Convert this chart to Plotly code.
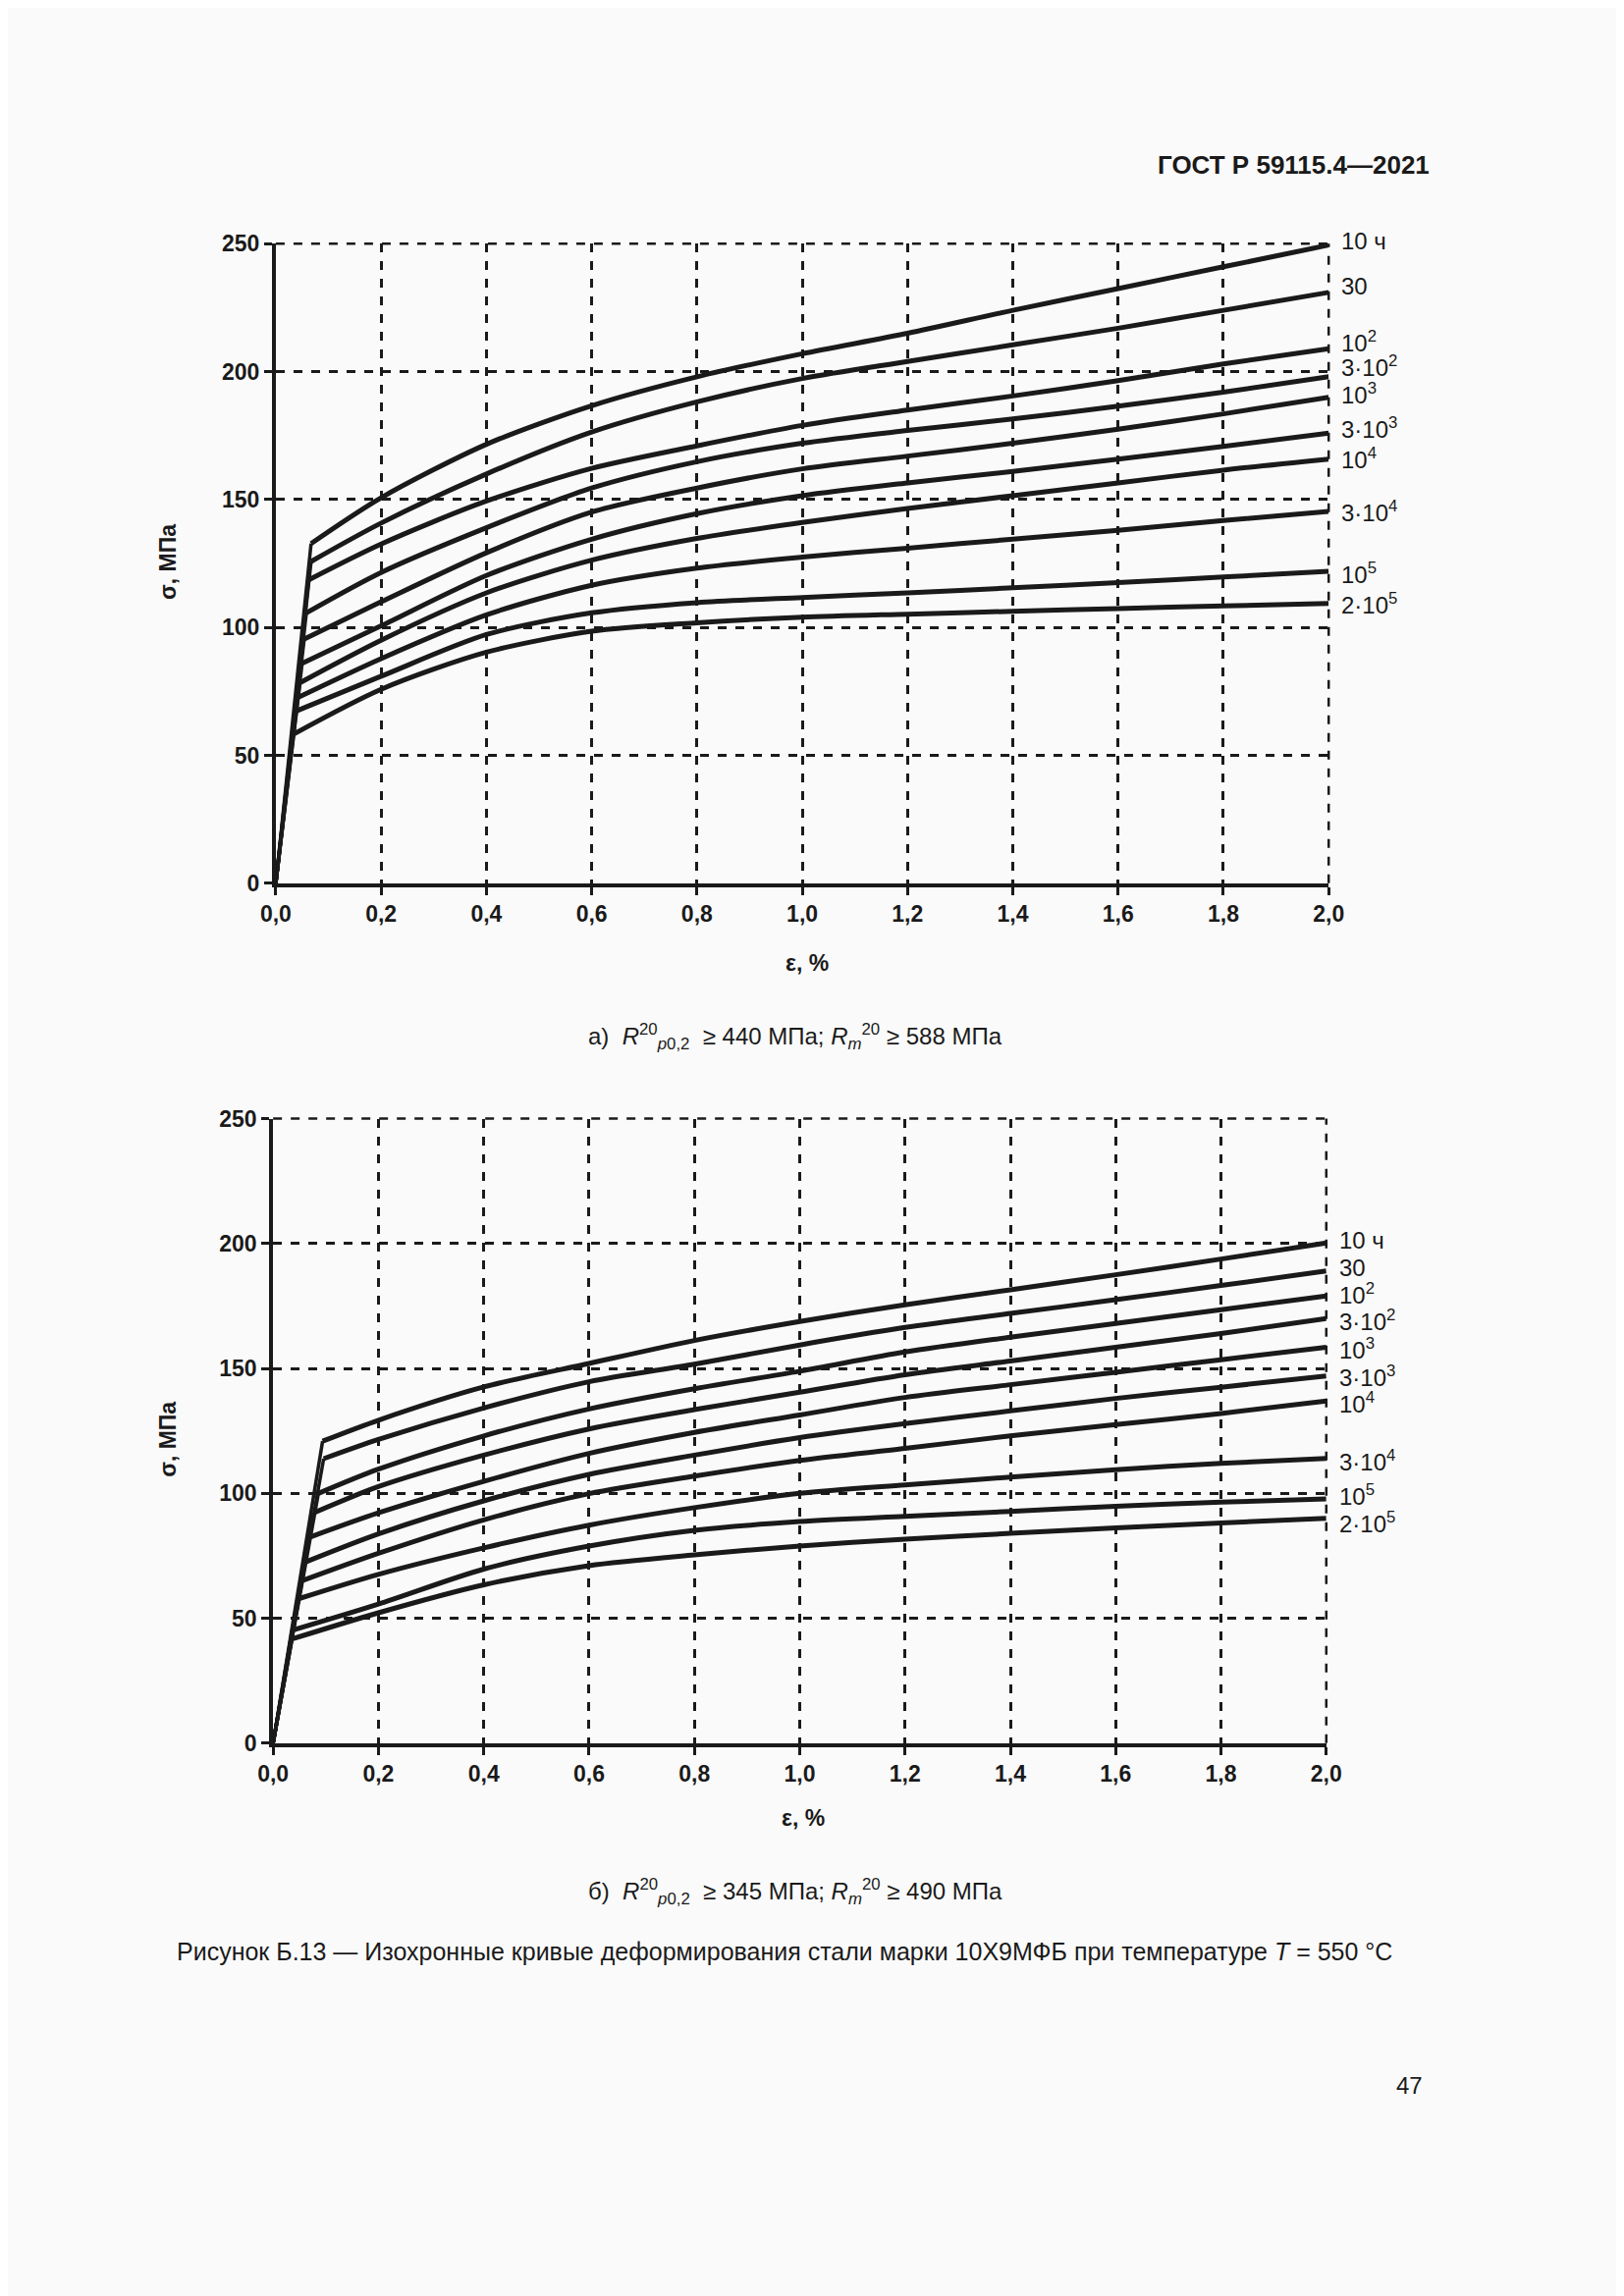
import plotly.graph_objects as go

labels = ["10 ч", "30", "10<sup>2</sup>", "3·10<sup>2</sup>", "10<sup>3</sup>", "3·10<sup>3</sup>",
          "10<sup>4</sup>", "3·10<sup>4</sup>", "10<sup>5</sup>", "2·10<sup>5</sup>"]
x_grid = [0.2, 0.4, 0.6, 0.8, 1.0, 1.2, 1.4, 1.6, 1.8, 2.0]

# Chart a)
a_start_x = [0.067, 0.067, 0.0625, 0.058, 0.054, 0.05, 0.046, 0.04, 0.0375, 0.033]
a_start_y = [132.8, 125.8, 118.6, 105.7, 95.5, 86.0, 78.4, 72.4, 67.2, 58.2]
a_vals = [
    [150.7, 171.6, 186.7, 198.0, 207.0, 215.0, 224.0, 232.5, 241.0, 249.5],
    [140.8, 160.0, 176.4, 188.2, 197.3, 204.0, 210.5, 217.0, 224.0, 231.0],
    [132.6, 149.4, 162.2, 171.0, 179.0, 185.0, 190.5, 196.5, 203.0, 209.0],
    [121.5, 139.0, 154.5, 164.8, 172.0, 177.0, 181.5, 186.5, 192.0, 198.0],
    [110.0, 129.2, 145.1, 154.5, 162.0, 167.0, 172.0, 177.5, 183.5, 190.0],
    [100.6, 120.3, 134.5, 144.5, 151.5, 156.5, 161.0, 165.8, 170.8, 176.0],
    [95.0, 113.5, 126.3, 134.8, 141.0, 146.5, 151.5, 156.5, 161.5, 165.8],
    [87.8, 104.9, 116.5, 123.2, 127.5, 131.0, 134.5, 138.0, 141.8, 145.4],
    [80.9, 97.2, 105.7, 109.7, 111.7, 113.5, 115.5, 117.5, 119.7, 121.9],
    [75.8, 90.3, 98.5, 101.8, 104.0, 105.2, 106.3, 107.4, 108.4, 109.4],
]
a_label_y = [251, 233.5, 211.9, 202, 191.6, 177.9, 165.9, 145.3, 121.3, 109.3]

# Chart б)
b_start_x = [0.094, 0.096, 0.086, 0.077, 0.069, 0.061, 0.052, 0.048, 0.036, 0.036]
b_start_y = [120.9, 113.9, 100.0, 92.2, 82.4, 72.5, 64.8, 57.8, 45.2, 41.7]
b_vals = [
    [129.3, 142.6, 152.0, 161.2, 168.8, 175.5, 181.5, 187.5, 193.8, 200.2],
    [121.6, 134.2, 144.7, 151.7, 159.4, 166.4, 172.0, 177.5, 183.2, 189.0],
    [109.7, 123.0, 133.8, 141.9, 148.9, 156.6, 162.5, 168.0, 173.5, 179.0],
    [102.7, 115.3, 125.8, 133.5, 140.5, 147.5, 153.0, 158.5, 164.0, 170.0],
    [92.2, 104.8, 116.0, 124.4, 131.4, 138.4, 143.5, 148.5, 153.5, 158.5],
    [83.8, 97.0, 107.6, 115.3, 122.3, 127.9, 133.0, 138.0, 142.5, 147.0],
    [76.0, 89.4, 99.9, 106.9, 113.2, 118.0, 123.0, 127.5, 132.0, 137.0],
    [67.6, 78.2, 87.3, 94.3, 100.0, 103.4, 106.5, 109.5, 112.0, 114.0],
    [55.7, 69.7, 78.9, 85.2, 88.7, 90.8, 92.8, 94.8, 96.5, 97.8],
    [52.2, 63.4, 71.1, 75.4, 78.9, 81.7, 84.0, 86.2, 88.2, 90.0],
]
b_label_y = [201.4, 190.3, 179.7, 169.2, 158.0, 147.0, 136.4, 113.0, 99.5, 88.4]

y_max = 250
x_max = 2.0
y_ticks = [0, 50, 100, 150, 200, 250]
x_ticks = [0, 0.2, 0.4, 0.6, 0.8, 1.0, 1.2, 1.4, 1.6, 1.8, 2.0]
x_ticktext = ["0,0", "0,2", "0,4", "0,6", "0,8", "1,0", "1,2", "1,4", "1,6", "1,8", "2,0"]

FONT = "Liberation Sans, Arial, sans-serif"
INK = "#1a1a1a"
fig = go.Figure()

def add_chart(xa, ya, sx, sy, vals, lab_y):
    for i in range(len(vals)):
        fig.add_trace(go.Scatter(x=[0, sx[i]], y=[0, sy[i]], mode="lines",
                                 line=dict(color=INK, width=3.5),
                                 xaxis=xa, yaxis=ya, showlegend=False))
        fig.add_trace(go.Scatter(x=[sx[i]] + x_grid, y=[sy[i]] + vals[i], mode="lines",
                                 line=dict(color=INK, width=5, shape="spline", smoothing=0.8),
                                 xaxis=xa, yaxis=ya, showlegend=False))
        fig.add_annotation(x=1.01, y=lab_y[i] / y_max, xref=xa + " domain", yref=ya + " domain",
                           text=labels[i], showarrow=False, xanchor="left", yanchor="middle",
                           font=dict(family=FONT, size=24, color=INK))
    # dashed top and right edges (grid lines at 250 and 2.0)
    fig.add_shape(type="line", xref=xa + " domain", yref=ya + " domain", x0=0, x1=1, y0=1, y1=1,
                  line=dict(color=INK, width=2.5, dash="dash"))
    fig.add_shape(type="line", xref=xa + " domain", yref=ya + " domain", x0=1, x1=1, y0=0, y1=1,
                  line=dict(color=INK, width=2.5, dash="dash"))

add_chart("x", "y", a_start_x, a_start_y, a_vals, a_label_y)
add_chart("x2", "y2", b_start_x, b_start_y, b_vals, b_label_y)

ax = dict(range=[0, x_max], tickvals=x_ticks, ticktext=x_ticktext, showgrid=True,
          gridcolor=INK, griddash="dash", gridwidth=2.5, showline=True,
          linecolor=INK, linewidth=4, ticks="outside", ticklen=8, tickwidth=3,
          tickcolor=INK, zeroline=False,
          tickfont=dict(family=FONT, size=23, color=INK, weight="bold"))
ay = dict(range=[0, y_max], tickvals=y_ticks, showgrid=True, gridcolor=INK,
          griddash="dash", gridwidth=2.5, showline=True, linecolor=INK, linewidth=4,
          ticks="outside", ticklen=8, tickwidth=3, tickcolor=INK, zeroline=False,
          tickfont=dict(family=FONT, size=23, color=INK, weight="bold"))

fig.update_layout(
    width=1654, height=2339, margin=dict(l=0, r=0, t=0, b=0),
    paper_bgcolor="#fafafa", plot_bgcolor="#fafafa",
    xaxis=dict(ax, domain=[0.1584, 0.8195], anchor="y"),
    yaxis=dict(ay, domain=[0.6201, 0.9017], anchor="x"),
    xaxis2=dict(ax, domain=[0.1567, 0.818], anchor="y2"),
    yaxis2=dict(ay, domain=[0.2413, 0.5164], anchor="x2"),
)

def txt(x, y, s, size=23, bold=False, xanchor="center", angle=0):
    fig.add_annotation(x=x / 1654, y=1 - y / 2339, xref="paper", yref="paper", text=s,
                       showarrow=False, xanchor=xanchor, yanchor="middle", textangle=angle,
                       font=dict(family=FONT, size=size, color=INK,
                                 weight="bold" if bold else "normal"))

txt(1462, 149, "ГОСТ Р 59115.4—2021", size=26, bold=True, xanchor="right")
txt(150, 558, "σ, МПа", bold=True, angle=-90)
txt(814, 971, "ε, %", bold=True)
txt(150, 1462, "σ, МПа", bold=True, angle=-90)
txt(810, 1852, "ε, %", bold=True)
txt(802, 1047, "а)  <i>R</i><sup>20</sup><sub><i>p</i>0,2</sub>  ≥ 440 МПа; <i>R</i><sub><i>m</i></sub><sup>20</sup> ≥ 588 МПа", size=24)
txt(802, 1927, "б)  <i>R</i><sup>20</sup><sub><i>p</i>0,2</sub>  ≥ 345 МПа; <i>R</i><sub><i>m</i></sub><sup>20</sup> ≥ 490 МПа", size=24)
txt(790, 1989, "Рисунок Б.13 — Изохронные кривые деформирования стали марки 10Х9МФБ при температуре <i>T</i> = 550 °C", size=25)
txt(1455, 2127, "47", size=24, xanchor="right")

fig.write_html("out.html")
